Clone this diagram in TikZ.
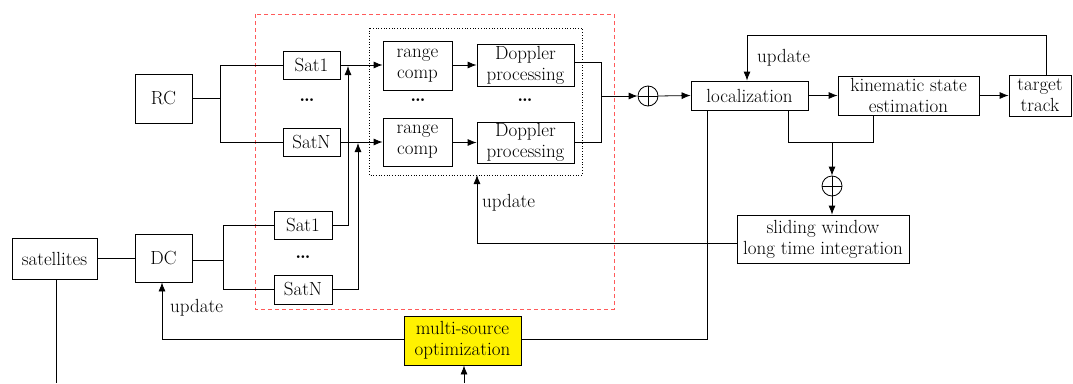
\documentclass[tikz,border=0pt]{standalone}
\usepackage{fontspec}
\setmainfont{Latin Modern Roman}
\usetikzlibrary{arrows.meta,calc}
\begin{document}
\begin{tikzpicture}[x=1pt,y=-1pt,
  every node/.style={font=\fontsize{19}{21}\selectfont},
  box/.style={draw,line width=0.8pt,inner sep=0pt,align=center,fill=white},
  conn/.style={line width=0.8pt},
  arr/.style={line width=0.8pt,-{Latex[length=9pt,width=7pt]}},
  osum/.style={draw,circle,line width=0.8pt,minimum size=20pt,inner sep=0pt,
    path picture={\draw[line width=0.8pt] (path picture bounding box.north) -- (path picture bounding box.south)
      (path picture bounding box.west) -- (path picture bounding box.east);}},
  dotsl/.style={inner sep=0pt,font=\fontsize{19}{21}\selectfont\bfseries},
  lbl/.style={anchor=west,inner sep=0pt}]
\useasboundingbox (0,0) rectangle (1073,383);
% frames
\draw[dashed,dash pattern=on 4pt off 3pt,color={rgb,255:red,255;green,90;blue,90},line width=0.8pt] (255,14) rectangle (614,309);
\draw[dotted,line width=0.7pt] (369,28) rectangle (582,175);
\coordinate (dotbot) at (477,175);
% nodes
\node[box,minimum width=57pt,minimum height=49pt] (RC) at (163.5,98.5) {RC};
\node[box,minimum width=57pt,minimum height=28pt] (S1u) at (311.5,65) {Sat1};
\node[box,minimum width=57pt,minimum height=28pt] (SNu) at (311.5,142) {SatN};
\node[box,minimum width=69pt,minimum height=49pt] (rc1) at (417.5,65.5) {range\\comp};
\node[box,minimum width=97pt,minimum height=42pt] (dp1) at (525.5,65) {Doppler\\processing};
\node[box,minimum width=69pt,minimum height=48pt] (rc2) at (417.5,142) {range\\comp};
\node[box,minimum width=97pt,minimum height=41pt] (dp2) at (525.5,142.5) {Doppler\\processing};
\node[osum] (p1) at (648,96) {};
\node[box,minimum width=117pt,minimum height=29pt] (loc) at (749.5,95.5) {localization};
\node[box,minimum width=141pt,minimum height=39pt] (kin) at (908.5,95.5) {kinematic state\\estimation};
\node[box,minimum width=62pt,minimum height=41pt] (tgt) at (1040,95.5) {target\\track};
\node[osum] (p2) at (832,186) {};
\node[box,minimum width=172pt,minimum height=48pt] (sw) at (823,239) {sliding window\\long time integration};
\node[box,minimum width=117pt,minimum height=49pt,fill=yellow] (ms) at (462.5,340.5) {multi-source\\optimization};
\node[box,minimum width=57pt,minimum height=48pt] (DC) at (163.5,258) {DC};
\node[box,minimum width=85pt,minimum height=41pt] (sat) at (54.5,258.5) {satellites};
\node[box,minimum width=58pt,minimum height=28pt] (S1l) at (303,225) {Sat1};
\node[box,minimum width=58pt,minimum height=29pt] (SNl) at (303,289.5) {SatN};
% dots
\node[dotsl] (d1) at (307,100) {\dots};
\node[dotsl] (d2) at (418,100) {\dots};
\node[dotsl] (d3) at (525,100) {\dots};
\node[dotsl] (d4) at (303,257) {\dots};
% labels
\node[lbl] (u1) at (757,58) {update};
\node[lbl] (u2) at (482,203) {update};
\node[lbl] (u3) at (170,308) {update};
% RC fan-out
\coordinate (j1) at (220,98.5);
\draw[conn] (RC.east) -- (j1);
\draw[conn] (S1u.west) -| (j1 |- SNu.west) -- (SNu.west);
% DC fan-out
\coordinate (j2) at (223,260);
\draw[conn] (DC.east |- j2) -- (j2);
\draw[conn] (S1l.west) -| (j2 |- SNl.west) -- (SNl.west);
\draw[conn] (sat.east |- DC) -- (DC.west);
\coordinate (satend) at (56,383);
\draw[conn] (sat.south -| satend) -- (satend);
% upper chain
\draw[arr] (S1u.east) -- (S1u.east -| rc1.west);
\draw[arr] (SNu.east) -- (SNu.east -| rc2.west);
\draw[arr] (rc1.east |- dp1) -- (dp1.west);
\draw[arr] (rc2.east |- dp2) -- (dp2.west);
% lower sats up
\coordinate (v1) at (348,66);
\coordinate (v2) at (358,143);
\draw[arr] (S1l.east) -| (v1);
\draw[arr] (SNl.east) -| (v2);
% merge Doppler
\coordinate (j3) at (601,96);
\coordinate (e1) at (574,62);
\draw[conn] (e1) -| (j3 |- dp2.east) -- (dp2.east);
\draw[arr] (j3) -- (p1.west);
\draw[arr] (p1.east) -- (loc.west);
\draw[arr] (loc.east) -- (kin.west);
\draw[arr] (kin.east) -- (tgt.west);
% feedback from target
\coordinate (t1) at (1046,35);
\draw[arr] (tgt.north -| t1) -- (t1) -| (loc.north -| 747,0);
% loc + kin to sum2
\coordinate (j4) at (788,142);
\draw[conn] (loc.south -| j4) -- (j4) -| (kin.south -| 873,0);
\draw[arr] (832,142) -- (p2.north);
\draw[arr] (p2.south) -- (sw.north -| p2);
% sliding window feedback
\coordinate (j5) at (477,243);
\draw[arr] (sw.west |- j5) -- (j5) -- (dotbot);
% loc to multi-source
\coordinate (j6) at (707,339);
\draw[conn] (loc.south -| j6) -- (j6) -- (ms.east |- j6);
% multi-source to DC
\coordinate (j7) at (162,339);
\draw[arr] (ms.west |- j7) -- (j7) -- (DC.south -| j7);
\coordinate (msin) at (464,383);
\draw[arr] (msin) -- (ms.south -| msin);
\end{tikzpicture}
\end{document}
